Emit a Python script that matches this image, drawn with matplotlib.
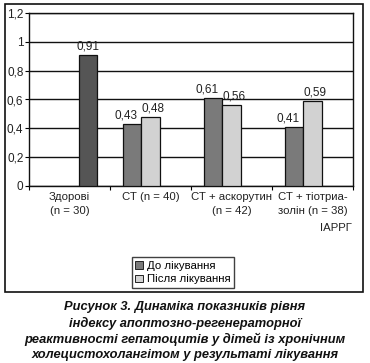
import matplotlib
matplotlib.use("Agg")
import matplotlib.pyplot as plt
from matplotlib.patches import Rectangle, Patch
import numpy as np

categories = ["Здорові\n(n = 30)", "СТ (n = 40)", "СТ + аскорутин\n(n = 42)", "СТ + тіотриа-\nзолін (n = 38)"]
before = [np.nan, 0.43, 0.61, 0.41]
after = [np.nan, 0.48, 0.56, 0.59]
healthy = [0.91, np.nan, np.nan, np.nan]
yticks = [0, 0.2, 0.4, 0.6, 0.8, 1.0, 1.2]
ytick_labels = ["0", "0,2", "0,4", "0,6", "0,8", "1", "1,2"]
legend_labels = ["До лікування", "Після лікування"]
caption = ["Рисунок 3. Динаміка показників рівня",
           "індексу апоптозно-регенераторної",
           "реактивності гепатоцитів у дітей із хронічним",
           "холецистохолангітом у результаті лікування"]
axis_name = "ІАРРГ"

W, H = 370, 363
fig = plt.figure(figsize=(W / 100, H / 100), dpi=100)
plt.rcParams['font.family'] = ['Liberation Sans', 'DejaVu Sans']

# outer frame
fig.patches.append(Rectangle((5 / W, 1 - 292 / H), (363 - 5) / W, (292 - 4) / H,
                             transform=fig.transFigure, fill=False, lw=1.2, ec='#111111'))

ax = fig.add_axes([29 / W, 1 - 186 / H, (353 - 29) / W, (186 - 13) / H])
x = np.arange(len(categories))
w = 0.228
c_before, c_after, c_healthy = '#7a7a7a', '#d2d2d2', '#555555'
ax.bar(x - w, before, w, color=c_before, ec='#111111', lw=0.9, zorder=3)
ax.bar(x, after, w, color=c_after, ec='#111111', lw=0.9, zorder=3)
ax.bar(x + w, healthy, w, color=c_healthy, ec='#111111', lw=0.9, zorder=3)

def fmt(v):
    return f"{v:.2f}".replace('.', ',')

for off, vals, dx in ((-w, before, -4), (0, after, 2), (w, healthy, 0)):
    for xi, v in zip(x, vals):
        if not np.isnan(v):
            ax.annotate(fmt(v), (xi + off, v), xytext=(dx, 2), textcoords='offset points',
                        ha='center', va='bottom', fontsize=8.5, color='#222222')

ax.set_xlim(-0.5, 3.5)
ax.set_ylim(0, 1.2)
ax.set_yticks(yticks)
ax.set_yticklabels(ytick_labels, fontsize=8.5, color='#222222')
ax.yaxis.grid(True, color='#111111', lw=1.0, zorder=1)
ax.set_axisbelow(True)
ax.set_xticks(np.arange(-0.5, 3.6, 1.0))
ax.set_xticklabels([])
ax.set_xticks(x, minor=True)
ax.set_xticklabels(categories, minor=True, fontsize=8.2, color='#222222', linespacing=1.55)
ax.tick_params(axis='x', which='minor', length=0, pad=4)
ax.tick_params(axis='x', which='major', length=3, width=0.8, direction='out')
ax.tick_params(axis='y', length=3, width=0.8, pad=1)
for s in ax.spines.values():
    s.set_linewidth(1.0)
    s.set_color('#111111')

fig.text(352 / W, 1 - 228 / H, axis_name, ha='right', va='center', fontsize=8.2, color='#222222')

handles = [Patch(fc=c_before, ec='#222222', lw=0.7), Patch(fc=c_after, ec='#222222', lw=0.7)]
leg = fig.legend(handles, legend_labels, loc='center', bbox_to_anchor=(183 / W, 1 - 272.5 / H),
                 fontsize=8.2, frameon=True, fancybox=False, edgecolor='#111111',
                 handlelength=0.7, handleheight=0.7, handletextpad=0.3, borderpad=0.3,
                 labelspacing=0.35, borderaxespad=0)
leg.get_frame().set_linewidth(1.0)

ys = [307, 323, 339, 355]
for line, yy in zip(caption, ys):
    fig.text(0.5, 1 - yy / H, line, ha='center', va='center', fontsize=9.3,
             fontweight='bold', fontstyle='italic', color='#111111')

fig.savefig('out.png', dpi=100)
